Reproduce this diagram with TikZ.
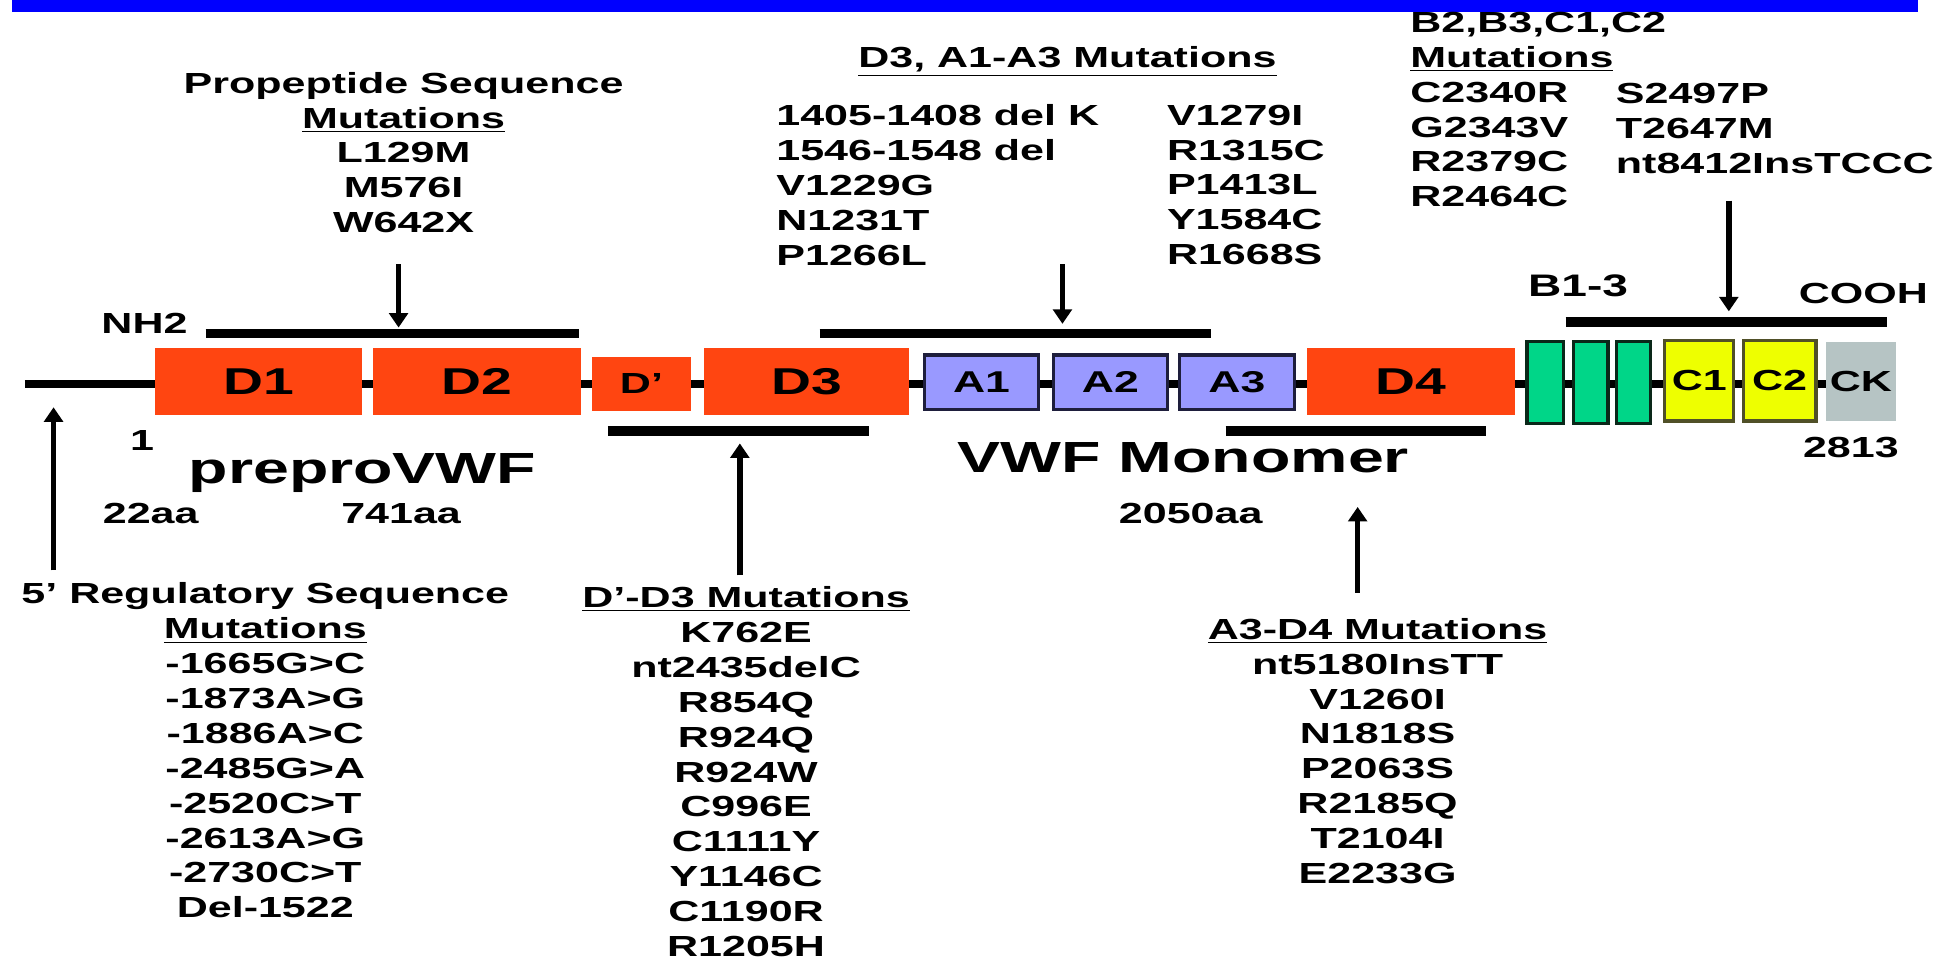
\documentclass[tikz,border=0pt]{standalone}
\usepackage{fontspec}
\setmainfont{Liberation Sans}[FakeStretch=1.48]
\usetikzlibrary{arrows.meta,fit,backgrounds}
\definecolor{vorange}{RGB}{255,69,17}
\definecolor{alav}{RGB}{153,153,255}
\definecolor{adraw}{RGB}{30,30,60}
\definecolor{vgreen}{RGB}{0,214,136}
\definecolor{gdraw}{RGB}{10,40,25}
\definecolor{vyellow}{RGB}{238,255,0}
\definecolor{cdraw}{RGB}{80,80,40}
\definecolor{ckgray}{RGB}{182,196,196}
\begin{document}
\begin{tikzpicture}[x=0.6pt,y=-0.6pt,
  txt/.style={inner sep=0pt, font=\fontsize{14}{16.8}\selectfont\bfseries},
  big/.style={inner sep=0pt, font=\fontsize{21}{24}\selectfont\bfseries},
  dlab/.style={inner sep=0pt, font=\fontsize{18}{18}\selectfont\bfseries},
  alab/.style={inner sep=0pt, font=\fontsize{14.5}{14.5}\selectfont\bfseries},
  slab/.style={inner sep=0pt, font=\fontsize{14}{14}\selectfont\bfseries},
  obox/.style={draw=none, fill=vorange, inner sep=0pt},
  abox/.style={draw=adraw, line width=1.5pt, fill=alav, inner sep=0pt},
  gbox/.style={draw=gdraw, line width=1.5pt, fill=vgreen, inner sep=0pt},
  cbox/.style={draw=cdraw, line width=1.5pt, fill=vyellow, inner sep=0pt},
  kbox/.style={draw=none, fill=ckgray, inner sep=0pt},
  mainline/.style={line width=3.9pt},
  bar/.style={line width=4.5pt},
  arr/.style={line width=2.6pt, -{Triangle[width=9pt,length=7pt]}}
]
\useasboundingbox (0,0) rectangle (1568,773);
\fill[blue] (10,-2) rectangle (1540,10);

% domain boxes
\node[obox, fit={(124.5,279.5) (291,333)}, label={[dlab]center:D1}] (D1) {};
\node[obox, fit={(299.5,279.5) (466.5,333)}, label={[dlab]center:D2}] (D2) {};
\node[obox, fit={(475,286.5) (555,330)}, label={[slab]center:D’}] (Dp) {};
\node[obox, fit={(565,279.5) (730,333)}, label={[dlab]center:D3}] (D3) {};
\node[abox, fit={(742,285) (834,329)}, label={[alab]center:A1}] (A1) {};
\node[abox, fit={(846,285) (937,329)}, label={[alab]center:A2}] (A2) {};
\node[abox, fit={(947,285) (1039,329)}, label={[alab]center:A3}] (A3) {};
\node[obox, fit={(1049.5,279.5) (1216.5,333)}, label={[dlab]center:D4}] (D4) {};
\node[gbox, fit={(1226,274.5) (1255,340)}] (B1) {};
\node[gbox, fit={(1263,274.5) (1291,340)}] (B2) {};
\node[gbox, fit={(1298,274.5) (1325,340)}] (B3) {};
\node[cbox, fit={(1336.5,273.5) (1392,338)}, label={[slab]center:C1}] (C1) {};
\node[cbox, fit={(1399.5,273.5) (1458,338)}, label={[slab]center:C2}] (C2) {};
\node[kbox, fit={(1466,274.5) (1522,338)}, label={[slab]center:CK}] (CK) {};

\begin{scope}[on background layer]
  \coordinate (ml) at (20,308);
  \draw[mainline] (ml) -- (ml -| CK.west);
\end{scope}

% bars
\coordinate (b1l) at (165,267.5); \coordinate (b1r) at (465,267.5);
\draw[bar] (b1l) -- (b1r);
\coordinate (b2l) at (658,267.5); \coordinate (b2r) at (972,267.5);
\draw[bar] (b2l) -- (b2r);
\coordinate (b3l) at (1257,258.5); \coordinate (b3r) at (1515,258.5);
\draw[bar] (b3l) -- (b3r);
\coordinate (b4l) at (488,346); \coordinate (b4r) at (698,346);
\draw[bar] (b4l) -- (b4r);
\coordinate (b5l) at (984,346); \coordinate (b5r) at (1193,346);
\draw[bar] (b5l) -- (b5r);

% arrows
\coordinate (a1s) at (320,212); \coordinate (a1e) at (320,263);
\draw[arr] (a1s) -- (a1e);
\coordinate (a2s) at (853,212); \coordinate (a2e) at (853,260);
\draw[arr] (a2s) -- (a2e);
\coordinate (a3s) at (1388,161); \coordinate (a3e) at (1388,250);
\draw[arr] (a3s) -- (a3e);
\coordinate (a4s) at (43,458); \coordinate (a4e) at (43,327);
\draw[arr] (a4s) -- (a4e);
\coordinate (a5s) at (594,462); \coordinate (a5e) at (594,356);
\draw[arr] (a5s) -- (a5e);
\coordinate (a6s) at (1090,476); \coordinate (a6e) at (1090,407);
\draw[arr] (a6s) -- (a6e);

% single labels
\node[txt, anchor=base] (nh2) at (116,268) {NH2};
\node[txt, anchor=base] (one) at (114,362) {1};
\node[big, anchor=base] (prepro) at (291,388) {preproVWF};
\node[txt, anchor=base] (aa22) at (121,420) {22aa};
\node[txt, anchor=base] (aa741) at (322,420) {741aa};
\node[big, anchor=base] (mono) at (950,379) {VWF Monomer};
\node[txt, anchor=base] (aa2050) at (956,420) {2050aa};
\node[txt, anchor=base] (n2813) at (1486,367) {2813};
\node[txt, anchor=base] (cooh) at (1496,244) {COOH};
\node[txt, anchor=base, font=\fontsize{15}{15}\selectfont\bfseries] (b13) at (1267,238) {B1-3};

% mutation blocks
\node[txt, align=center] (prop) at (324,122.5) {Propeptide Sequence\\\underline{Mutations}\\L129M\\M576I\\W642X};
\node[txt] (d3h) at (857,49.5) {\underline{D3, A1-A3 Mutations}};
\node[txt, align=left, anchor=west] (d3l) at (623,148.5) {1405-1408 del K\\1546-1548 del\\V1229G\\N1231T\\P1266L};
\node[txt, align=left, anchor=west] (d3r) at (936.6,148.5) {V1279I\\R1315C\\P1413L\\Y1584C\\R1668S};
\node[txt, align=left, anchor=west] (bcl) at (1132,88) {B2,B3,C1,C2\\\underline{Mutations}\\C2340R\\G2343V\\R2379C\\R2464C};
\node[txt, align=left, anchor=west] (bcr) at (1297,103) {S2497P\\T2647M\\nt8412InsTCCC};
\node[txt, align=center] (reg) at (213,602.5) {5’ Regulatory Sequence\\\underline{Mutations}\\-1665G>C\\-1873A>G\\-1886A>C\\-2485G>A\\-2520C>T\\-2613A>G\\-2730C>T\\Del-1522};
\node[txt, align=center] (dd3) at (599,619.5) {\underline{D’-D3 Mutations}\\K762E\\nt2435delC\\R854Q\\R924Q\\R924W\\C996E\\C1111Y\\Y1146C\\C1190R\\R1205H};
\node[txt, align=center] (a3d4) at (1106,603) {\underline{A3-D4 Mutations}\\nt5180InsTT\\V1260I\\N1818S\\P2063S\\R2185Q\\T2104I\\E2233G};
\end{tikzpicture}
\end{document}
